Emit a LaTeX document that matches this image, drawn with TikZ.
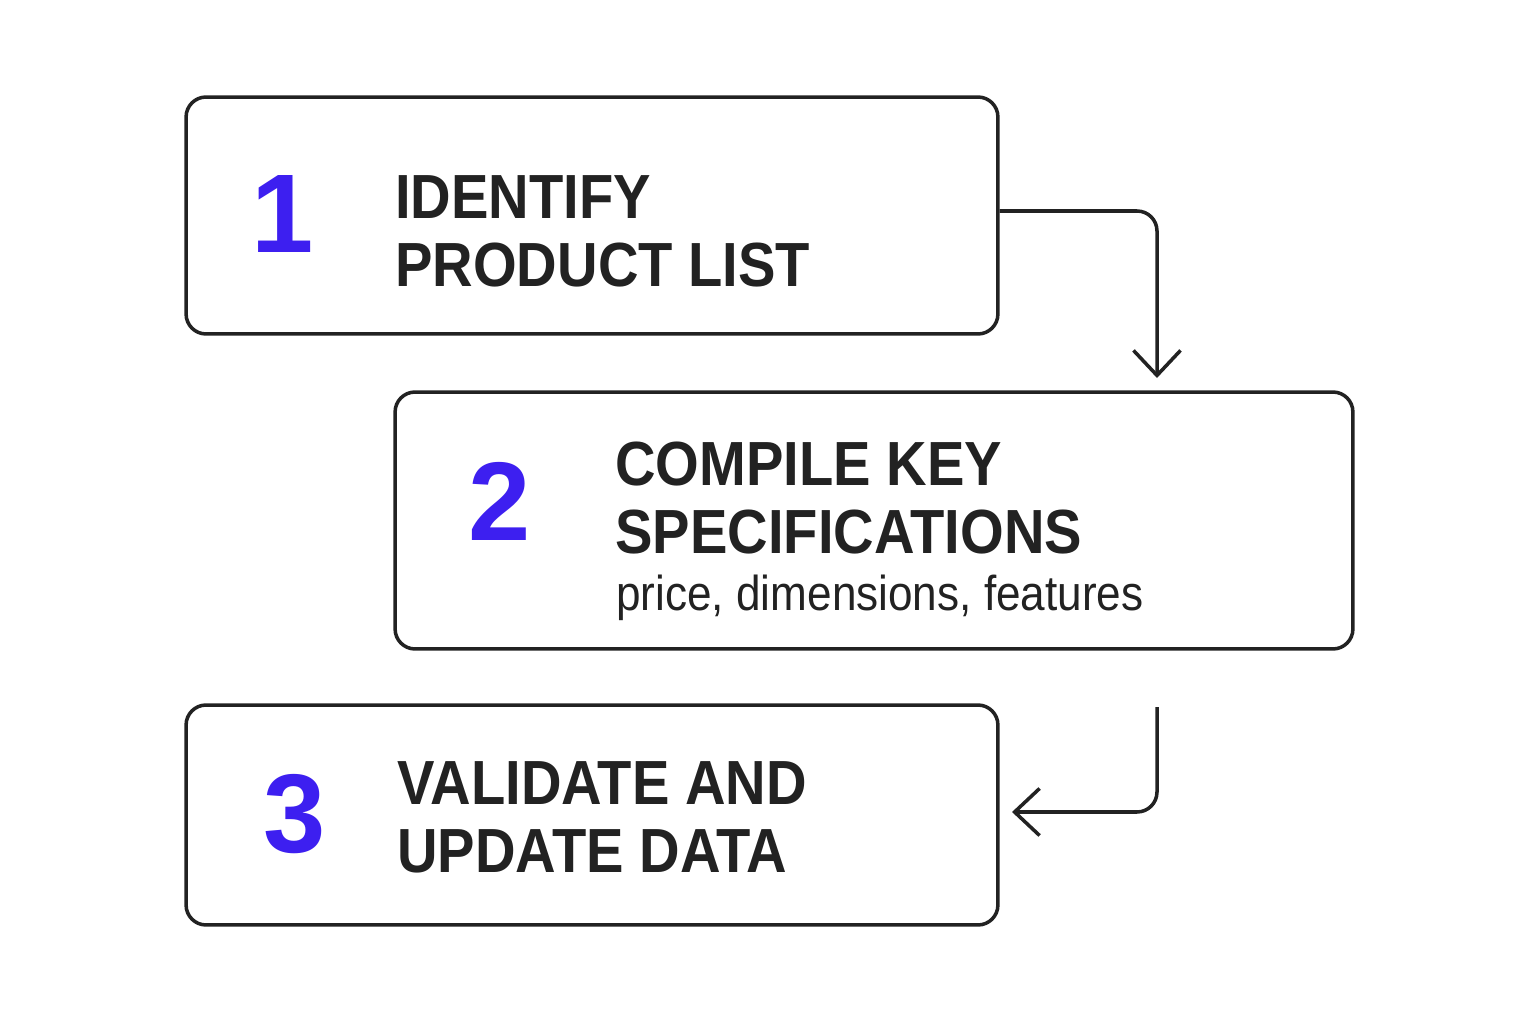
\documentclass[tikz,border=0pt]{standalone}
\usepackage{fontspec}
\setmainfont{Liberation Sans}
\newfontfamily\narrowfont[FakeStretch=0.9]{Liberation Sans}
\usetikzlibrary{arrows.meta}
\definecolor{ink}{HTML}{222222}
\definecolor{stepblue}{HTML}{3D1FF0}

\begin{document}
\begin{tikzpicture}[x=0.02cm, y=-0.02cm,
  stepbox/.style={draw=ink, line width=2pt, rounded corners=0.4cm},
  num/.style={anchor=base, text=stepblue, font=\bfseries\fontsize{63.7}{64}\selectfont},
  title/.style={anchor=base west, text=ink, align=left, inner sep=0pt,
    font=\narrowfont\bfseries\fontsize{35.5}{38.2}\selectfont},
  sub/.style={anchor=base west, text=ink, inner sep=0pt,
    font=\narrowfont\fontsize{27.9}{30}\selectfont},
  flow/.style={draw=ink, line width=2pt, rounded corners=0.4cm,
    -{Straight Barb[length=0.5cm,width=0.94cm]}}]
\useasboundingbox[fill=white] (0,0) rectangle (1536,1024);

% boxes
\node[stepbox, minimum width=16.24cm, minimum height=4.74cm] (box1) at (592,215.5) {};
\node[stepbox, minimum width=19.16cm, minimum height=5.14cm] (box2) at (874,520.5) {};
\node[stepbox, minimum width=16.24cm, minimum height=4.4cm] (box3) at (592,815) {};

% numbers and texts
\node[num] (n1) at (283,253) {1};
\node[title] (t1) at (395,286) {IDENTIFY\\PRODUCT LIST};

\node[num] (n2) at (500,540) {2};
\node[title] (t2) at (615,553) {COMPILE KEY\\SPECIFICATIONS};
\node[sub] (s2) at (616,610) {price, dimensions, features};

\node[num] (n3) at (295,852) {3};
\node[title] (t3) at (397,872) {VALIDATE AND\\UPDATE DATA};

% connectors
\coordinate (tip1) at (1157,378);
\coordinate (from2) at (1157,707);
\coordinate (tip3) at (1012,812);
\draw[flow] ([yshift=0.09cm]box1.east) -| (tip1);
\draw[flow] (from2) |- (tip3);

\end{tikzpicture}
\end{document}
